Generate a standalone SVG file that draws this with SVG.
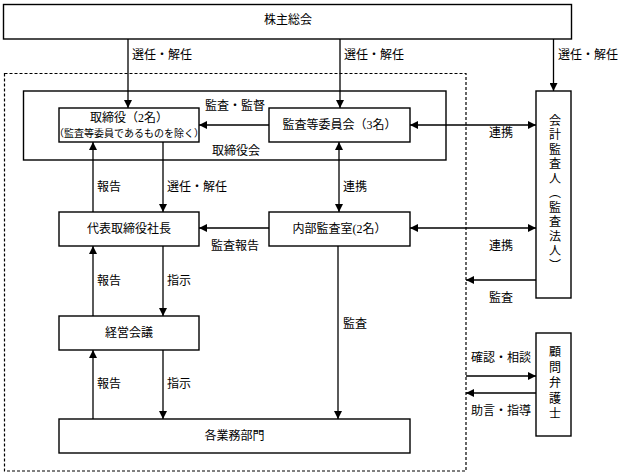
<svg xmlns="http://www.w3.org/2000/svg" width="618" height="475" viewBox="0 0 618 475">
<style>
.box{fill:#fff;stroke:#000;stroke-width:1.4}
.dash{fill:none;stroke:#000;stroke-width:1.2;stroke-dasharray:3,2}
.ln{fill:none;stroke:#000;stroke-width:1.3}
.a{marker-end:url(#ah)}
.b{marker-start:url(#ah);marker-end:url(#ah)}
text{font-family:"Liberation Serif","Noto Sans CJK JP",serif;font-size:12px;fill:#000}
.c{text-anchor:middle}
.s{font-size:10px}
.v{writing-mode:vertical-rl;text-anchor:middle;letter-spacing:2.5px}
</style>
<defs>
<marker id="ah" markerUnits="userSpaceOnUse" markerWidth="9" markerHeight="8" refX="8" refY="4" orient="auto-start-reverse">
<path d="M0,0 L8,4 L0,8 z" fill="#000"/>
</marker>
</defs>
<rect class="dash" x="4.5" y="73.5" width="461.5" height="397.5"/>
<g id="kabunushi"><rect class="box" x="3.5" y="4.5" width="568" height="34.5"/><text class="c" x="288" y="24">株主総会</text></g>
<g id="torishimariyakukai"><rect class="box" x="23.5" y="91" width="422.5" height="69"/><text class="c" x="236" y="155">取締役会</text></g>
<g id="torishimariyaku"><rect class="box" x="59" y="108" width="140" height="34"/><text class="c" x="129" y="122">取締役（2名）</text><text class="c s" x="129" y="137">（監査等委員であるものを除く）</text></g>
<g id="kansa-iinkai"><rect class="box" x="269" y="108" width="141" height="34"/><text class="c" x="339.5" y="129">監査等委員会（3名）</text></g>
<g id="daihyo"><rect class="box" x="59" y="212" width="140" height="34"/><text class="c" x="129" y="233">代表取締役社長</text></g>
<g id="naibu"><rect class="box" x="269" y="212" width="141" height="34"/><text class="c" x="339.5" y="233">内部監査室(2名）</text></g>
<g id="keiei"><rect class="box" x="59" y="316" width="140" height="34"/><text class="c" x="129" y="337">経営会議</text></g>
<g id="kakugyomu"><rect class="box" x="59" y="419" width="351" height="34"/><text class="c" x="234.5" y="440">各業務部門</text></g>
<g id="kaikei"><rect class="box" x="536" y="91" width="35" height="207"/><text class="v" x="553.5" y="194">会計監査人（監査法人）</text></g>
<g id="komon"><rect class="box" x="536" y="333" width="35" height="103"/><text class="v" x="553.5" y="384.5" style="letter-spacing:3.5px">顧問弁護士</text></g>
<g id="connectors">
<line class="ln a" x1="128" y1="39" x2="128" y2="108"/>
<line class="ln a" x1="340" y1="39" x2="340" y2="108"/>
<line class="ln a" x1="553.5" y1="39" x2="553.5" y2="91"/>
<line class="ln a" x1="269" y1="125" x2="199" y2="125"/>
<line class="ln b" x1="410" y1="125" x2="536" y2="125"/>
<line class="ln b" x1="339" y1="142" x2="339" y2="212"/>
<line class="ln a" x1="269" y1="228" x2="199" y2="228"/>
<line class="ln b" x1="410" y1="228" x2="536" y2="228"/>
<line class="ln a" x1="536" y1="280" x2="466" y2="280"/>
<line class="ln a" x1="93" y1="212" x2="93" y2="142"/>
<line class="ln a" x1="163" y1="142" x2="163" y2="212"/>
<line class="ln a" x1="93" y1="316" x2="93" y2="246"/>
<line class="ln a" x1="163" y1="246" x2="163" y2="316"/>
<line class="ln a" x1="93" y1="419" x2="93" y2="350"/>
<line class="ln a" x1="163" y1="350" x2="163" y2="419"/>
<line class="ln a" x1="338" y1="246" x2="338" y2="419"/>
<line class="ln a" x1="466" y1="376" x2="536" y2="376"/>
<line class="ln a" x1="536" y1="393" x2="466" y2="393"/>
<text x="132" y="59">選任・解任</text>
<text x="344" y="59">選任・解任</text>
<text x="558" y="59">選任・解任</text>
<text class="c" x="235" y="110">監査・監督</text>
<text class="c" x="501" y="137">連携</text>
<text x="343" y="191">連携</text>
<text class="c" x="235" y="250">監査報告</text>
<text class="c" x="501" y="250">連携</text>
<text class="c" x="501" y="302">監査</text>
<text x="97" y="191">報告</text>
<text x="167" y="191">選任・解任</text>
<text x="97" y="285">報告</text>
<text x="167" y="285">指示</text>
<text x="97" y="388">報告</text>
<text x="167" y="388">指示</text>
<text x="343" y="328">監査</text>
<text class="c" x="501" y="362">確認・相談</text>
<text class="c" x="501" y="415">助言・指導</text>
</g>
</svg>
